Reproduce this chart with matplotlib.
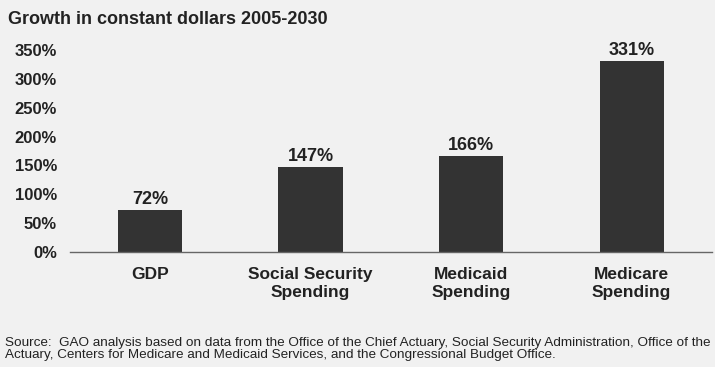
import matplotlib
matplotlib.use("Agg")
import matplotlib.pyplot as plt
from matplotlib.ticker import FuncFormatter

categories = ["GDP", "Social Security\nSpending", "Medicaid\nSpending", "Medicare\nSpending"]
growth_pct = [72, 147, 166, 331]
y_ticks = [0, 50, 100, 150, 200, 250, 300, 350]

title = "Growth in constant dollars 2005-2030"
source = ("Source:  GAO analysis based on data from the Office of the Chief Actuary, Social Security Administration, Office of the\n"
          "Actuary, Centers for Medicare and Medicaid Services, and the Congressional Budget Office.")

plt.rcParams['font.family'] = ['Liberation Sans', 'DejaVu Sans']

fig = plt.figure(figsize=(7.15, 3.67), dpi=100, facecolor="#f1f1f1")
ax = fig.add_axes([69.6 / 715, 0.3134, 642.4 / 715, 0.5817])
ax.set_facecolor("none")

x = list(range(len(categories)))
ax.bar(x, growth_pct, width=0.4, color="#333333", zorder=2)

for xi, v in zip(x, growth_pct):
    ax.annotate(f"{v}%", (xi, v), xytext=(0, 1.5), textcoords="offset points",
                ha="center", va="bottom", fontsize=13, fontweight="bold", color="#222222")

ax.set_xlim(-0.5, 3.5)
ax.set_ylim(0, 370)
ax.set_yticks(y_ticks)
ax.yaxis.set_major_formatter(FuncFormatter(lambda v, _: f"{v:.0f}%"))
ax.set_xticks(x)
ax.set_xticklabels(categories, fontsize=12.5, fontweight="bold", color="#222222", linespacing=1.3)
ax.tick_params(axis="y", length=0, pad=9, labelsize=12, labelcolor="#222222")
ax.tick_params(axis="x", length=0, pad=10.5)
for lbl in ax.get_yticklabels():
    lbl.set_fontweight("bold")

for side in ("left", "right", "top"):
    ax.spines[side].set_visible(False)
ax.spines["bottom"].set_color("#666666")
ax.spines["bottom"].set_linewidth(1.0)

fig.text(8 / 715, 1 - 19 / 367, title, fontsize=13, fontweight="bold", color="#222222",
         ha="left", va="center")
fig.text(5 / 715, 1 - 349 / 367, source, fontsize=9.7, color="#222222",
         ha="left", va="center", linespacing=1.05)

fig.savefig("out.png", dpi=100, facecolor=fig.get_facecolor())
